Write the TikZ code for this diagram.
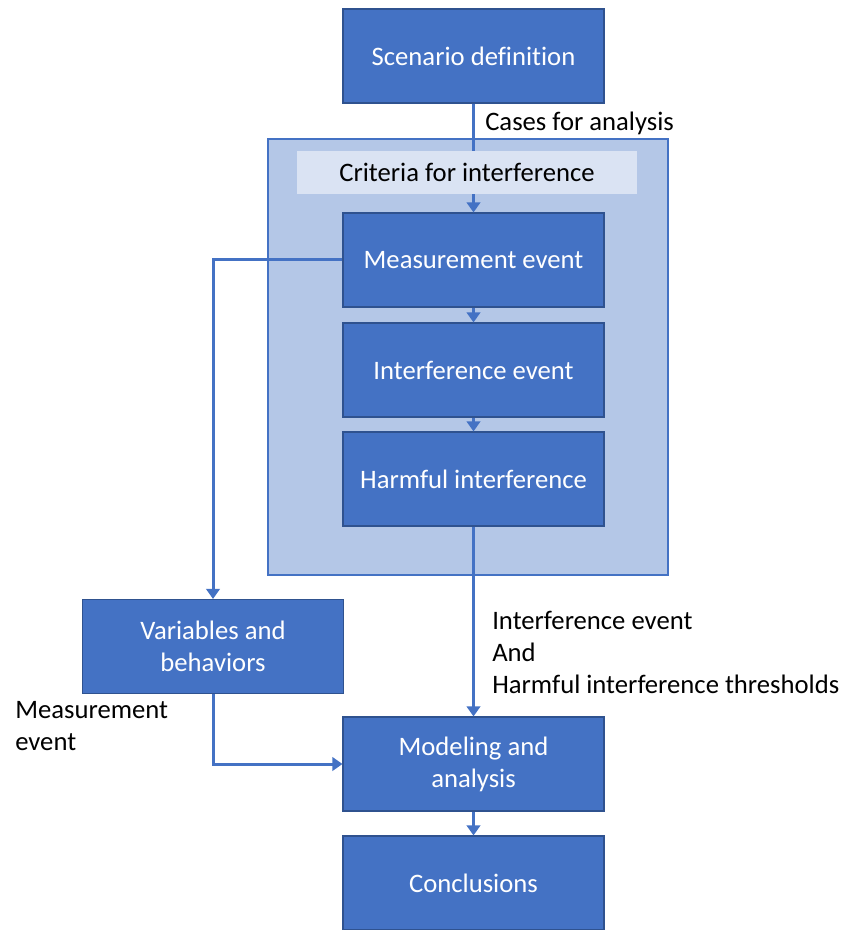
\documentclass[tikz,border=0pt]{standalone}
\usepackage{fontspec}
\setmainfont{Carlito}[Ligatures=CommonOff]
\usetikzlibrary{arrows.meta}
\definecolor{boxblue}{HTML}{4472C4}
\definecolor{boxline}{HTML}{2F528F}
\definecolor{paneblue}{HTML}{B4C7E7}
\definecolor{bandblue}{HTML}{DAE3F3}

\begin{document}
\begin{tikzpicture}[x=0.75pt,y=-0.75pt,
  every node/.style={font=\fontsize{20}{24}\selectfont},
  stepbox/.style={draw=boxline,line width=0.8pt,fill=boxblue,text=white,
    minimum width=195.75pt,minimum height=70.5pt,inner sep=0pt,align=center},
  flow/.style={draw=boxblue,line width=2.25pt,-{Triangle[width=10pt,length=7.5pt]}},
  lbl/.style={inner sep=0pt,align=left,anchor=west}]
\useasboundingbox (0,0) rectangle (849,930);

% Criteria pane behind the three event boxes
\node[draw=boxblue,line width=0.8pt,fill=paneblue,minimum width=300pt,minimum height=327pt,inner sep=0pt] (pane) at (468,357) {};

% Process boxes
\node[stepbox] (scenario) at (473.5,56) {Scenario definition};
\node[stepbox] (measure) at (473.5,260) {Measurement event};
\node[stepbox] (interf) at (473.5,370) {Interference event};
\node[stepbox] (harmful) at (473.5,479) {Harmful interference};
\node[stepbox] (variables) at (213,646.5) {Variables and\\behaviors};
\node[stepbox] (modeling) at (473.5,764) {Modeling and\\analysis};
\node[stepbox] (conclusions) at (473.5,883) {Conclusions};

% Arrows
\draw[flow] (scenario) -- (measure);
\draw[flow] (measure) -- (interf);
\draw[flow] (interf) -- (harmful);
\draw[flow] (harmful) -- (modeling);
\draw[flow] (measure.west) -| (variables.north);
\draw[flow] (variables.south) |- (modeling.west);
\draw[flow] (modeling) -- (conclusions);

% Band over the first arrow
\node[fill=bandblue,minimum width=255pt,minimum height=32.25pt,inner sep=0pt] (criteria) at (467,172.5) {Criteria for interference};

% Labels
\node[lbl] (cases) at (485,123) {Cases for analysis};
\node[lbl] (thresholds) at (492,652) {Interference event\\And\\Harmful interference thresholds};
\node[lbl] (measlbl) at (15,726) {Measurement\\event};

\end{tikzpicture}
\end{document}
